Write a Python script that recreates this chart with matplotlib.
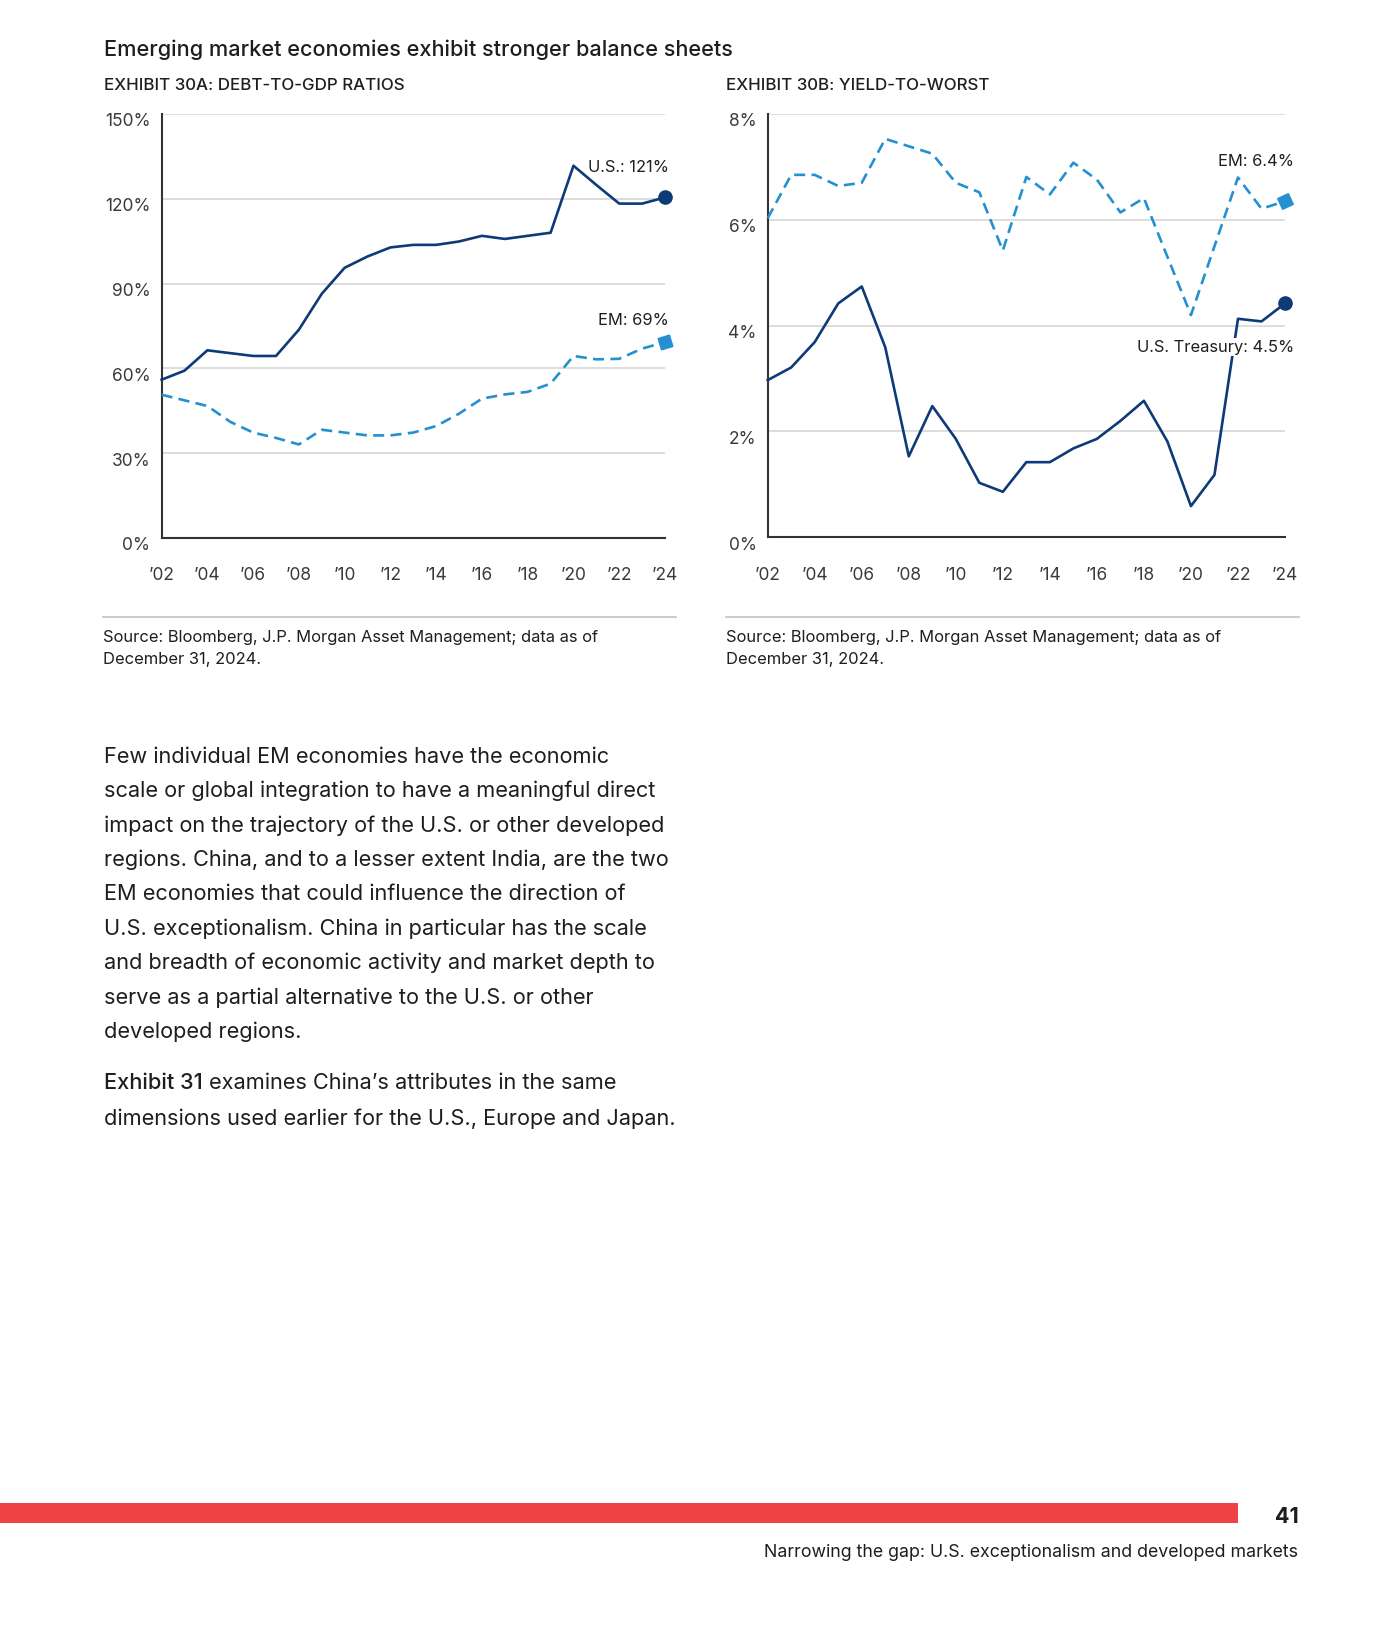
import matplotlib
matplotlib.use("Agg")
import matplotlib.pyplot as plt
from matplotlib.lines import Line2D
from matplotlib.patches import Rectangle
from matplotlib.transforms import ScaledTranslation

plt.rcParams['font.family'] = ['Inter', 'DejaVu Sans']

# data
years = list(range(2002, 2025))
us_debt = [56.0, 59.2, 66.4, 65.4, 64.4, 64.4, 73.7, 86.4, 95.6, 99.6, 102.8, 103.7,
           103.7, 104.9, 106.9, 105.8, 106.9, 108.0, 131.7, 124.9, 118.3, 118.3, 120.5]
em_debt = [50.7, 48.7, 46.7, 41.1, 37.3, 35.4, 33.1, 38.3, 37.3, 36.3, 36.3, 37.3,
           39.6, 44.0, 49.3, 50.8, 51.7, 54.6, 64.4, 63.2, 63.4, 67.0, 69.3]
em_ytw = [6.03, 6.85, 6.85, 6.64, 6.70, 7.53, 7.39, 7.25, 6.70, 6.52, 5.42, 6.81,
          6.48, 7.08, 6.76, 6.14, 6.41, 5.30, 4.20, 5.50, 6.80, 6.21, 6.35]
ust_ytw = [2.97, 3.21, 3.69, 4.42, 4.74, 3.59, 1.53, 2.48, 1.86, 1.03, 0.86, 1.42,
           1.42, 1.68, 1.86, 2.20, 2.58, 1.81, 0.59, 1.18, 4.13, 4.08, 4.42]
xtick_years = list(range(2002, 2025, 2))
xtick_labels = ["\u2019%02d" % (y % 100) for y in xtick_years]
debt_ticks = [0, 30, 60, 90, 120, 150]
ytw_ticks = [0, 2, 4, 6, 8]

body_lines = [
    "Few individual EM economies have the economic",
    "scale or global integration to have a meaningful direct",
    "impact on the trajectory of the U.S. or other developed",
    "regions. China, and to a lesser extent India, are the two",
    "EM economies that could influence the direction of",
    "U.S. exceptionalism. China in particular has the scale",
    "and breadth of economic activity and market depth to",
    "serve as a partial alternative to the U.S. or other",
    "developed regions.",
]

NAVY = "#0E3A78"
LIGHT = "#2490D2"
GRID = "#d3d3d3"
TXT = "#1e1e1e"
TICK = "#3a3a3a"
BODY = 15.65

W, H = 1400, 1640
fig = plt.figure(figsize=(W / 100, H / 100), dpi=100)


def fx(px):
    return px / W


def fy(py):
    return 1 - py / H


def setup(ax, ticks, fmt, top):
    ax.set_xlim(2002, 2024)
    ax.set_ylim(0, top)
    for s in ["top", "right"]:
        ax.spines[s].set_visible(False)
    for s in ["left", "bottom"]:
        ax.spines[s].set_color("#333333")
        ax.spines[s].set_linewidth(1.5)
    ax.set_yticks(ticks)
    ax.set_yticklabels([fmt % t for t in ticks])
    ax.set_xticks(xtick_years)
    ax.set_xticklabels(xtick_labels)
    ax.tick_params(length=0, labelsize=12.5, labelcolor=TICK)
    ax.tick_params(axis="y", pad=8)
    ax.tick_params(axis="x", pad=20.5)
    for t in ticks[1:]:
        ax.axhline(t, color=GRID, lw=1.1, zorder=0)
    for lab in ax.get_yticklabels():
        lab.set_transform(lab.get_transform() + ScaledTranslation(0, -5 / 100, fig.dpi_scale_trans))
    ax.patch.set_visible(False)


# left chart
ax1 = fig.add_axes([fx(161.6), fy(539), (665 - 161.6) / W, (539 - 115) / H])
setup(ax1, debt_ticks, "%d%%", 150)
ax1.plot(years, us_debt, color=NAVY, lw=1.9, clip_on=False, zorder=3)
ax1.plot(years, em_debt, color=LIGHT, lw=1.9, ls=(0, (4.2, 2.4)), clip_on=False, zorder=3)
ax1.plot(years[-1], us_debt[-1], "o", color=NAVY, ms=9.5, clip_on=False, zorder=4)
ax1.plot(years[-1], em_debt[-1], marker=(4, 0, 62), color=LIGHT, ms=12, lw=0, clip_on=False, zorder=4)
ax1.annotate("U.S.: 121%", (years[-1], us_debt[-1]), xytext=(2.9, 22.3), textcoords="offset points",
             ha="right", va="center", fontsize=11.9, color=TXT)
ax1.annotate("EM: 69%", (years[-1], em_debt[-1]), xytext=(2.9, 16.3), textcoords="offset points",
             ha="right", va="center", fontsize=11.9, color=TXT)

# right chart
ax2 = fig.add_axes([fx(767.7), fy(538.3), (1285 - 767.7) / W, (538.3 - 115) / H])
setup(ax2, ytw_ticks, "%d%%", 8)
ax2.plot(years, ust_ytw, color=NAVY, lw=1.9, clip_on=False, zorder=3)
ax2.plot(years, em_ytw, color=LIGHT, lw=1.9, ls=(0, (4.2, 2.4)), clip_on=False, zorder=3)
ax2.plot(years[-1], ust_ytw[-1], "o", color=NAVY, ms=9.5, clip_on=False, zorder=4)
ax2.plot(years[-1], em_ytw[-1], marker=(4, 0, 70), color=LIGHT, ms=12, lw=0, clip_on=False, zorder=4)
ax2.annotate("EM: 6.4%", (years[-1], em_ytw[-1]), xytext=(6.5, 29.2), textcoords="offset points",
             ha="right", va="center", fontsize=11.9, color=TXT)
ax2.annotate("U.S. Treasury: 4.5%", (years[-1], ust_ytw[-1]), xytext=(6.5, -31.2), textcoords="offset points",
             ha="right", va="center", fontsize=11.9, color=TXT, zorder=5,
             bbox=dict(boxstyle="square,pad=0.1", fc="white", ec="none"))

# headings
fig.text(fx(103.8), fy(50), "Emerging market economies exhibit stronger balance sheets",
         fontsize=15.6, fontweight="medium", color=TXT, va="center")
fig.text(fx(103.8), fy(86), "EXHIBIT 30A: DEBT-TO-GDP RATIOS", fontsize=12.2,
         fontweight="medium", color=TXT, va="center")
fig.text(fx(726), fy(86), "EXHIBIT 30B: YIELD-TO-WORST", fontsize=12.2,
         fontweight="medium", color=TXT, va="center")

# sources
for x0 in [103, 726]:
    fig.add_artist(Line2D([fx(x0), fx(x0 + 573)], [fy(618.3)] * 2, color="#bdbdbd", lw=1.1))
    fig.text(fx(x0), fy(637.3), "Source: Bloomberg, J.P. Morgan Asset Management; data as of",
             fontsize=11.9, color=TXT, va="center")
    fig.text(fx(x0), fy(659.3), "December 31, 2024.", fontsize=11.9, color=TXT, va="center")

# body text
for i, line in enumerate(body_lines):
    fig.text(fx(103.8), fy(756.7 + 34.4 * i), line, fontsize=BODY, color=TXT, va="center")

renderer = fig.canvas.get_renderer()
b = fig.text(fx(103.8), fy(1083.3), "Exhibit 31", fontsize=BODY, fontweight="medium",
             color=TXT, va="center")
bb = b.get_window_extent(renderer=renderer)
fig.text((bb.x1 + 6) / W, fy(1083.3), "examines China\u2019s attributes in the same",
         fontsize=BODY, color=TXT, va="center")
fig.text(fx(103.8), fy(1118.3), "dimensions used earlier for the U.S., Europe and Japan.",
         fontsize=BODY, color=TXT, va="center")

# footer
fig.add_artist(Rectangle((0, fy(1524.3)), fx(1238), (1524.3 - 1504) / H,
                         transform=fig.transFigure, color="#EF4346", lw=0))
fig.text(fx(1299), fy(1517), "41", fontsize=15.5, fontweight="bold", color=TXT,
         ha="right", va="center")
fig.text(fx(1297.5), fy(1553), "Narrowing the gap: U.S. exceptionalism and developed markets",
         fontsize=12.8, color=TXT, ha="right", va="center")

fig.savefig("out.png", dpi=100, facecolor="white")
